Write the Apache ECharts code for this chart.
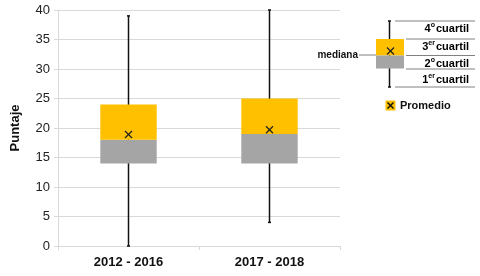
<!DOCTYPE html>
<html><head><meta charset="utf-8">
<script src="https://cdn.jsdelivr.net/npm/echarts@6/dist/echarts.min.js"></script>
<style>html,body{margin:0;padding:0;background:#fff}#c{width:480px;height:276px}</style>
</head><body><div id="c"></div>
<script>
const categories = ['2012 - 2016', '2017 - 2018'];
const minVals = [0, 4];
const q1Vals = [14, 14];
const medianVals = [18, 19];
const q3Vals = [24, 25];
const maxVals = [39, 40];
const meanVals = [18.9, 19.7];
const yTicks = {min: 0, max: 40, interval: 5};

const YELLOW = '#FFC000', GRAY = '#A5A5A5';
const data = categories.map((c, i) => [i, minVals[i], q1Vals[i], medianVals[i], q3Vals[i], maxVals[i], meanVals[i]]);

function renderItem(params, api) {
  const i = api.value(0);
  const w = api.size([1, 0])[0] * 0.4;
  const pMin = api.coord([i, api.value(1)]);
  const pQ1 = api.coord([i, api.value(2)]);
  const pMed = api.coord([i, api.value(3)]);
  const pQ3 = api.coord([i, api.value(4)]);
  const pMax = api.coord([i, api.value(5)]);
  const pMean = api.coord([i, api.value(6)]);
  const x = pQ1[0];
  const s = 3.5;
  return {
    type: 'group',
    children: [
      {type: 'line', shape: {x1: x, y1: pMin[1], x2: x, y2: pMax[1]}, style: {stroke: '#111', lineWidth: 1.5}},
      {type: 'line', shape: {x1: x - 1.5, y1: pMin[1], x2: x + 1.5, y2: pMin[1]}, style: {stroke: '#111', lineWidth: 1.5}},
      {type: 'line', shape: {x1: x - 1.5, y1: pMax[1], x2: x + 1.5, y2: pMax[1]}, style: {stroke: '#111', lineWidth: 1.5}},
      {type: 'rect', shape: {x: x - w / 2, y: pMed[1], width: w, height: pQ1[1] - pMed[1]}, style: {fill: GRAY}},
      {type: 'rect', shape: {x: x - w / 2, y: pQ3[1], width: w, height: pMed[1] - pQ3[1]}, style: {fill: YELLOW}},
      {type: 'line', shape: {x1: pMean[0] - s, y1: pMean[1] - s, x2: pMean[0] + s, y2: pMean[1] + s}, style: {stroke: '#222', lineWidth: 1.3}},
      {type: 'line', shape: {x1: pMean[0] - s, y1: pMean[1] + s, x2: pMean[0] + s, y2: pMean[1] - s}, style: {stroke: '#222', lineWidth: 1.3}}
    ]
  };
}

const lblFont = {fontFamily: 'Liberation Sans, Arial', fontWeight: 'bold', fontSize: 11, fill: '#111'};
const supRich = {sup: {fontSize: 7, verticalAlign: 'top', fontFamily: 'Liberation Sans', fontWeight: 'bold', color: '#111', padding: [0, 1, 6, 0]}, n: {fontSize: 11, fontFamily: 'Liberation Sans', fontWeight: 'bold', color: '#111'}};
function qLabel(num, sup, y) {
  return {type: 'text', right: 11, top: y, style: {text: '{n|' + num + '}{sup|' + sup + '}{n|cuartil}', rich: supRich, align: 'right'}};
}
const lineGray = '#808080';
const graphics = [
  {type: 'line', shape: {x1: 395, y1: 21, x2: 475, y2: 21}, style: {stroke: lineGray, lineWidth: 1}},
  {type: 'line', shape: {x1: 406, y1: 39, x2: 475, y2: 39}, style: {stroke: lineGray, lineWidth: 1}},
  {type: 'line', shape: {x1: 406, y1: 55.5, x2: 475, y2: 55.5}, style: {stroke: lineGray, lineWidth: 1}},
  {type: 'line', shape: {x1: 406, y1: 69, x2: 475, y2: 69}, style: {stroke: lineGray, lineWidth: 1}},
  {type: 'line', shape: {x1: 395, y1: 87, x2: 475, y2: 87}, style: {stroke: lineGray, lineWidth: 1}},
  {type: 'line', shape: {x1: 389.5, y1: 21, x2: 389.5, y2: 87}, style: {stroke: '#111', lineWidth: 1.5}},
  {type: 'line', shape: {x1: 388, y1: 21, x2: 391, y2: 21}, style: {stroke: '#111', lineWidth: 1.5}},
  {type: 'line', shape: {x1: 388, y1: 87, x2: 391, y2: 87}, style: {stroke: '#111', lineWidth: 1.5}},
  {type: 'rect', shape: {x: 376, y: 39, width: 28, height: 16.5}, style: {fill: YELLOW}},
  {type: 'rect', shape: {x: 376, y: 55.5, width: 28, height: 13}, style: {fill: GRAY}},
  {type: 'line', shape: {x1: 387, y1: 47.5, x2: 394, y2: 54.5}, style: {stroke: '#222', lineWidth: 1.3}},
  {type: 'line', shape: {x1: 387, y1: 54.5, x2: 394, y2: 47.5}, style: {stroke: '#222', lineWidth: 1.3}},
  {type: 'line', shape: {x1: 359, y1: 55, x2: 376, y2: 55}, style: {stroke: lineGray, lineWidth: 1}},
  {type: 'text', x: 358, y: 55, style: Object.assign({text: 'mediana', align: 'right', verticalAlign: 'middle'}, lblFont, {fontSize: 10})},
  qLabel('4', 'o', 22),
  qLabel('3', 'er', 40),
  qLabel('2', 'o', 57),
  qLabel('1', 'er', 73),
  {type: 'rect', shape: {x: 385.5, y: 100.5, width: 10, height: 10}, style: {fill: YELLOW}},
  {type: 'line', shape: {x1: 387.5, y1: 102.5, x2: 393.5, y2: 108.5}, style: {stroke: '#111', lineWidth: 1.4}},
  {type: 'line', shape: {x1: 387.5, y1: 108.5, x2: 393.5, y2: 102.5}, style: {stroke: '#111', lineWidth: 1.4}},
  {type: 'text', x: 400, y: 105.5, style: Object.assign({text: 'Promedio', align: 'left', verticalAlign: 'middle'}, lblFont)}
];

const chart = echarts.init(document.getElementById('c'), null, {renderer: 'canvas'});
chart.setOption({
  animation: false,
  backgroundColor: '#fff',
  grid: {left: 58, right: 140, top: 10, bottom: 30},
  xAxis: {
    type: 'category', data: categories, boundaryGap: true,
    axisLine: {lineStyle: {color: '#D9D9D9'}},
    axisTick: {show: true, alignWithLabel: false, length: 4, lineStyle: {color: '#D9D9D9'}},
    axisLabel: {color: '#111', fontSize: 13, fontWeight: 'bold', fontFamily: 'Liberation Sans, Arial', margin: 10}
  },
  yAxis: {
    type: 'value', min: yTicks.min, max: yTicks.max, interval: yTicks.interval,
    name: 'Puntaje', nameLocation: 'middle', nameGap: 36,
    nameTextStyle: {color: '#111', fontSize: 13, fontWeight: 'bold', fontFamily: 'Liberation Sans, Arial'},
    axisLine: {show: true, lineStyle: {color: '#D9D9D9'}},
    axisTick: {show: true, length: 4, lineStyle: {color: '#D9D9D9'}},
    axisLabel: {color: '#222', fontSize: 13, fontFamily: 'Liberation Sans, Arial', margin: 8},
    splitLine: {lineStyle: {color: '#D9D9D9'}}
  },
  series: [{type: 'custom', renderItem: renderItem, data: data, encode: {x: 0, y: [1, 5]}, clip: false}],
  graphic: graphics
});
</script></body></html>
